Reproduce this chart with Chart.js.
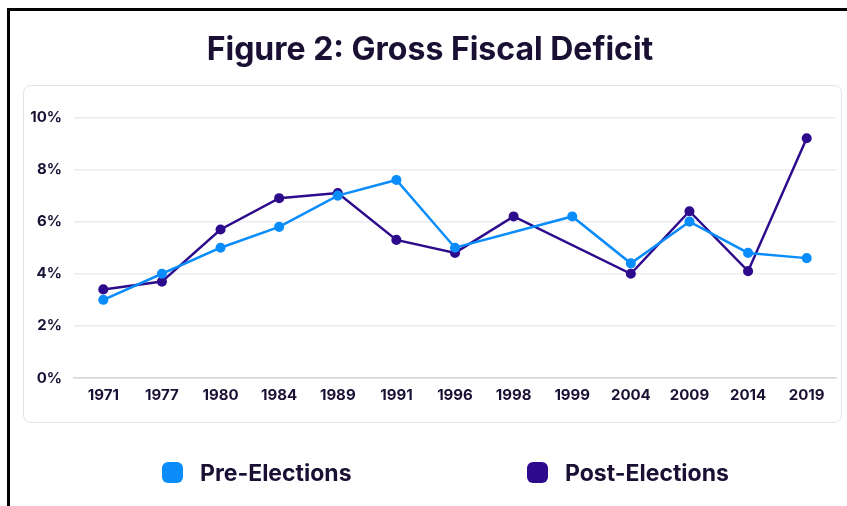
<!DOCTYPE html>
<html>
<head>
<meta charset="utf-8">
<script src="https://cdn.jsdelivr.net/npm/chart.js@4.4.1/dist/chart.umd.min.js"></script>
<style>
  html, body { margin: 0; padding: 0; background: #ffffff; }
  #wrap { position: relative; width: 847px; height: 506px; overflow: hidden; font-family: Inter, "Open Sans", sans-serif; }
  #frameL { position: absolute; left: 7px; top: 8px; width: 3px; height: 520px; background: #000; }
  #frameT { position: absolute; left: 7px; top: 8px; width: 860px; height: 3px; background: #000; }
  #card { position: absolute; left: 23px; top: 85px; width: 817px; height: 336px; border: 1.5px solid #e3e3e6; border-radius: 8px; background: #fff; }
  #c { position: absolute; left: 0; top: 0; }
  .leg { position: absolute; top: 462px; height: 21px; display: flex; align-items: center; font-weight: 700; font-size: 23px; color: #1a1033; white-space: nowrap; }
  .leg .sw { width: 21px; height: 21px; border-radius: 6px; margin-right: 17px; flex: none; }
</style>
</head>
<body>
<div id="wrap">
  <div id="frameL"></div>
  <div id="frameT"></div>
  <div id="card"></div>
  <canvas id="c" width="847" height="506"></canvas>
  <div id="legend"></div>
</div>
<script>
const chartTitle = "Figure 2: Gross Fiscal Deficit";
const years = ["1971","1977","1980","1984","1989","1991","1996","1998","1999","2004","2009","2014","2019"];
const preElections  = [3.0, 4.0, 5.0, 5.8, 7.0, 7.6, 5.0, null, 6.2, 4.4, 6.0, 4.8, 4.6];
const postElections = [3.4, 3.7, 5.7, 6.9, 7.1, 5.3, 4.8, 6.2, null, 4.0, 6.4, 4.1, 9.2];
const seriesNames = ["Pre-Elections", "Post-Elections"];
const seriesColors = ["#0a8dfb", "#2e0b8c"];
const yTicks = [0, 2, 4, 6, 8, 10];

const textColor = "#1a1033";
const fontFamily = "Inter, 'Open Sans', sans-serif";

const legendX = [162, 527];
const legendEl = document.getElementById('legend');
seriesNames.forEach((name, i) => {
  const d = document.createElement('div');
  d.className = 'leg';
  d.style.left = legendX[i] + 'px';
  const sw = document.createElement('span');
  sw.className = 'sw';
  sw.style.background = seriesColors[i];
  const t = document.createElement('span');
  t.textContent = name;
  d.appendChild(sw);
  d.appendChild(t);
  legendEl.appendChild(d);
});

new Chart(document.getElementById('c'), {
  type: 'line',
  data: {
    labels: years,
    datasets: [
      { label: seriesNames[0], data: preElections, borderColor: seriesColors[0], backgroundColor: seriesColors[0], borderWidth: 2.5, pointRadius: 3.8, pointHoverRadius: 4, spanGaps: true, tension: 0 },
      { label: seriesNames[1], data: postElections, borderColor: seriesColors[1], backgroundColor: seriesColors[1], borderWidth: 2.5, pointRadius: 3.8, pointHoverRadius: 4, spanGaps: true, tension: 0 }
    ]
  },
  options: {
    responsive: false,
    animation: false,
    layout: { padding: { left: 24, right: 11, top: 0, bottom: 94 } },
    plugins: {
      legend: { display: false },
      tooltip: { enabled: false },
      title: {
        display: true,
        text: chartTitle,
        color: textColor,
        font: { family: fontFamily, size: 32, weight: '700' },
        padding: { top: 31, bottom: 48 }
      }
    },
    scales: {
      x: {
        offset: true,
        grid: { display: false, drawTicks: false },
        border: { display: true, color: '#d6d6dc', width: 1.5 },
        ticks: { color: textColor, padding: 8, maxRotation: 0, autoSkip: false, font: { family: fontFamily, size: 15, weight: '700' } }
      },
      y: {
        min: 0, max: 10,
        afterFit: (s) => { s.width = 50; },
        afterBuildTicks: (s) => { s.ticks = yTicks.map(v => ({ value: v })); },
        grid: { color: '#ececf0', lineWidth: 1.5, drawTicks: false },
        border: { display: false },
        ticks: { color: textColor, padding: 12, font: { family: fontFamily, size: 15, weight: '700' }, callback: (v) => v + '%' }
      }
    }
  }
});
</script>
</body>
</html>
